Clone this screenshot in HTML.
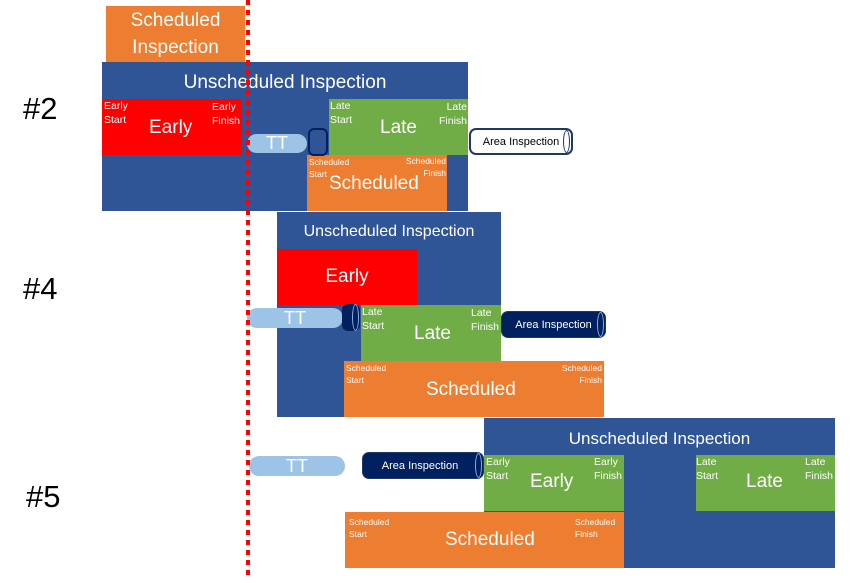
<!DOCTYPE html>
<html><head><meta charset="utf-8"><style>
*{margin:0;padding:0;box-sizing:border-box}
body{width:850px;height:583px;background:#fff;position:relative;overflow:hidden;font-family:"Liberation Sans",sans-serif;color:#fff}
.a{position:absolute}
.blue{background:#2f5597}
.red{background:#ff0000}
.grn{background:#70ad47}
.org{background:#ed7d31}
.c{display:flex;align-items:center;justify-content:center;text-align:center}
.s{position:absolute;font-size:10.5px;line-height:14px}
.xs{position:absolute;font-size:8.5px;line-height:12px}
.big{font-size:19px}
.num{position:absolute;color:#000;font-size:31px}
.pill{background:#9dc3e6;border-radius:10px;font-size:18px}
.dcyl{background:#002060;border-radius:7px;font-size:11px;border:1px solid #1f3864}
.wcyl{background:#fff;color:#000;border:2px solid #1f3864;border-radius:7px;font-size:11px}
.cap{position:absolute;top:0;bottom:0;width:7px;border:1.5px solid #8faadc;border-radius:50%}
</style></head><body>

<div class="num" style="left:23px;top:91px">#2</div>
<div class="num" style="left:23px;top:271px">#4</div>
<div class="num" style="left:26px;top:479px">#5</div>

<!-- Block 1 -->
<div class="a org c" style="left:106px;top:6px;width:139px;height:56px;font-size:19px;line-height:27px">Scheduled<br>Inspection</div>
<div class="a blue" style="left:102px;top:62px;width:366px;height:149px"></div>
<div class="a c" style="left:102px;top:70px;width:366px;height:26px;font-size:19px">Unscheduled Inspection</div>
<div class="a red" style="left:102px;top:99px;width:140px;height:56px">
  <div class="s" style="left:2px;top:0">Early<br>Start</div>
  <div class="s" style="right:2px;top:1px;text-align:left">Early<br>Finish</div>
  <div class="a big" style="left:47px;top:18px">Early</div>
</div>
<div class="a grn" style="left:329px;top:99px;width:139px;height:56px">
  <div class="s" style="left:1px;top:0">Late<br>Start</div>
  <div class="s" style="right:1px;top:1px;text-align:right">Late<br>Finish</div>
  <div class="a big" style="left:51px;top:18px">Late</div>
</div>
<div class="a org" style="left:307px;top:155px;width:140px;height:56px">
  <div class="xs" style="left:2px;top:1px">Scheduled<br>Start</div>
  <div class="xs" style="right:1px;top:0;text-align:right">Scheduled<br>Finish</div>
  <div class="a big" style="left:22px;top:18px">Scheduled</div>
</div>
<div class="a pill c" style="left:247px;top:134px;width:60px;height:19px">TT</div>
<div class="a" style="left:308px;top:128px;width:20px;height:28px;background:#2f5597;border:2px solid #002060;border-radius:6px"></div>
<div class="a wcyl c" style="left:469px;top:128px;width:104px;height:27px">Area Inspection
  <div class="cap" style="right:1px;border-color:#1f3864"></div></div>

<!-- Block 2 -->
<div class="a blue" style="left:277px;top:212px;width:224px;height:205px"></div>
<div class="a c" style="left:277px;top:219px;width:224px;height:26px;font-size:16px">Unscheduled Inspection</div>
<div class="a red c big" style="left:277px;top:249px;width:140px;height:56px">Early</div>
<div class="a grn" style="left:361px;top:305px;width:140px;height:56px">
  <div class="s" style="left:1px;top:0">Late<br>Start</div>
  <div class="s" style="left:110px;top:1px">Late<br>Finish</div>
  <div class="a big" style="left:53px;top:18px">Late</div>
</div>
<div class="a org" style="left:344px;top:361px;width:260px;height:56px">
  <div class="xs" style="left:2px;top:1px">Scheduled<br>Start</div>
  <div class="xs" style="right:2px;top:1px;text-align:right">Scheduled<br>Finish</div>
  <div class="a big" style="left:82px;top:18px">Scheduled</div>
</div>
<div class="a pill c" style="left:247px;top:308px;width:96px;height:20px">TT</div>
<div class="a" style="left:342px;top:304px;width:18px;height:27px;background:#002060;border-radius:6px"><div class="cap" style="right:1px"></div></div>
<div class="a dcyl c" style="left:501px;top:311px;width:105px;height:27px">Area Inspection
  <div class="cap" style="right:1px"></div></div>

<!-- Block 3 -->
<div class="a blue" style="left:484px;top:418px;width:351px;height:150px"></div>
<div class="a c" style="left:484px;top:426px;width:351px;height:26px;font-size:17px">Unscheduled Inspection</div>
<div class="a grn" style="left:484px;top:455px;width:140px;height:56px">
  <div class="s" style="left:2px;top:0">Early<br>Start</div>
  <div class="s" style="left:110px;top:0">Early<br>Finish</div>
  <div class="a big" style="left:46px;top:16px">Early</div>
</div>
<div class="a grn" style="left:696px;top:455px;width:139px;height:56px;overflow:hidden">
  <div class="s" style="left:0;top:0">Late<br>Start</div>
  <div class="s" style="left:109px;top:0">Late<br>Finish</div>
  <div class="a big" style="left:50px;top:16px">Late</div>
</div>
<div class="a org" style="left:345px;top:512px;width:279px;height:56px">
  <div class="xs" style="left:4px;top:4px">Scheduled<br>Start</div>
  <div class="xs" style="left:230px;top:4px">Scheduled<br>Finish</div>
  <div class="a big" style="left:100px;top:17px">Scheduled</div>
</div>
<div class="a pill c" style="left:249px;top:456px;width:96px;height:20px">TT</div>
<div class="a dcyl c" style="left:362px;top:452px;width:122px;height:27px;padding-right:6px">Area Inspection
  <div class="cap" style="right:1px"></div></div>

<!-- red dotted line -->
<div class="a" style="left:246px;top:0;width:4px;height:580px;background:repeating-linear-gradient(to bottom,#ff0000 0 5px,transparent 5px 10px)"></div>

</body></html>
